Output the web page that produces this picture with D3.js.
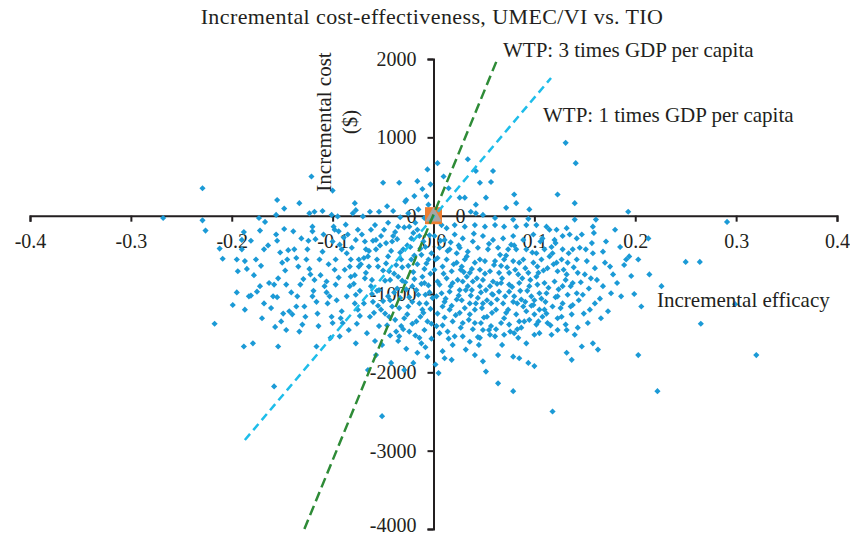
<!DOCTYPE html>
<html>
<head>
<meta charset="utf-8">
<script src="https://cdn.jsdelivr.net/npm/d3@7"></script>
<style>
  body { margin: 0; background: #fff; }
  svg text { font-family: "Liberation Serif", "DejaVu Serif", serif; fill: #231f20; }
</style>
</head>
<body>
<div id="chart-area"></div>
<script>
// chart: incremental cost vs incremental efficacy (bootstrap scatter)

const W = 850
const H = 537

const TITLE = "Incremental cost-effectiveness, UMEC/VI vs. TIO"
const xTicks = [-0.4, -0.3, -0.2, -0.1, 0.0, 0.1, 0.2, 0.3, 0.4]
const yTicks = [-4000, -3000, -2000, -1000, 0, 1000, 2000]

// willingness-to-pay threshold lines, [efficacy, cost] end points
const wtp3 = [[-0.128, -4000], [0.064, 2020]]
const wtp1 = [[-0.187, -2864], [0.1165, 1758]]

// base case point (origin)
const basePoint = [0, 0]

// simulated points: [incremental efficacy, incremental cost ($)]
const simLeft = [
	[-0.268,-30],[-0.229,350],[-0.229,-60],[-0.226,-190],[-0.212,-420],[-0.209,-550],[-0.217,-1380],[-0.199,-1140],
	[-0.195,-980],[-0.194,-710],[-0.188,-210],[-0.190,-310],[-0.190,-430],[-0.187,-580],[-0.185,-680],[-0.183,-1030],
	[-0.187,-1200],[-0.188,-1670],[-0.179,-1630],[-0.181,-320],[-0.176,-560],[-0.173,-30],[-0.172,-190],[-0.168,-430],
	[-0.167,-80],[-0.172,-900],[-0.175,-970],[-0.181,-1020],[-0.168,-1120],[-0.170,-1310],[-0.163,-860],[-0.158,-880],
	[-0.159,-1030],[-0.155,-1040],[-0.155,200],[-0.156,10],[-0.156,-240],[-0.155,-320],[-0.154,-800],[-0.150,-600],
	[-0.154,-1670],[-0.158,-2180],[-0.148,90],[-0.148,-170],[-0.144,-440],[-0.145,-560],[-0.146,-880],[-0.149,-1250],
	[-0.151,-1350],[-0.143,-1220],[-0.146,-1460],[-0.140,-1260],[-0.136,-1160],[-0.138,-430],[-0.136,-540],[-0.133,160],
	[-0.131,-290],[-0.132,-880],[-0.135,-1030],[-0.133,-1480],[-0.130,-1390],[-0.128,-1160],[-0.126,-560],[-0.125,-430],
	[-0.123,30],[-0.121,500],[-0.118,50],[-0.120,-140],[-0.120,-200],[-0.117,-300],[-0.123,-680],[-0.122,-750],
	[-0.118,-820],[-0.120,-1030],[-0.116,-1100],[-0.115,-1250],[-0.116,-1670],[-0.113,-560],[-0.110,60],[-0.110,-460],
	[-0.108,-900],[-0.106,-840],[-0.106,-980],[-0.105,-1120],[-0.103,-1030],[-0.101,-1290],[-0.100,320],[-0.101,10],
	[-0.099,-140],[-0.098,-180],[-0.100,-330],[-0.097,-560],[-0.098,-690],[-0.097,-880],[-0.100,-1370],[-0.095,-10],
	[-0.094,-200],[-0.093,-370],[-0.092,-1310],[-0.090,-1370],[-0.093,-1540],[-0.087,-115],[-0.085,-240],[-0.086,-480],
	[-0.083,-650],[-0.083,-900],[-0.082,-780],[-0.080,30],[-0.078,160],[-0.077,70],[-0.077,-310],[-0.075,-180],
	[-0.074,-560],[-0.074,-650],[-0.077,-1010],[-0.078,-1120],[-0.075,-1200],[-0.077,-1630],[-0.070,-10],[-0.068,-330],
	[-0.067,-430],[-0.067,-730],[-0.065,-520],[-0.063,50],[-0.062,-180],[-0.062,-900],[-0.060,-1100],[-0.063,-1290],
	[-0.065,-1970],[-0.057,-310],[-0.057,-430],[-0.055,-650],[-0.054,50],[-0.054,-950],[-0.052,-1200],[-0.054,-1410],
	[-0.050,420],[-0.051,-2560],[-0.049,-180],[-0.047,-350],[-0.046,120],[-0.045,-520],[-0.045,-1030],[-0.044,-1290],
	[-0.042,-1880],[-0.040,-260],[-0.037,-630],[-0.035,-780],[-0.034,420],[-0.035,-140],[-0.032,-1410],[-0.034,-1540],
	[-0.030,-430],[-0.029,-1970],[-0.027,200],[-0.025,-1160],[-0.024,-140],[-0.022,-560],[-0.021,-900],[-0.019,250],
	[-0.018,-90],[-0.016,440],[-0.014,-260],[-0.012,-1630],[-0.011,-1200],[-0.009,-860],[-0.007,250],[-0.006,590],
	[-0.195,-560],[-0.178,-760],[-0.171,-640],[-0.164,-380],[-0.161,-1180],[-0.157,-1420],[-0.152,-470],[-0.147,-700],
	[-0.141,-980],[-0.139,-200],[-0.134,-650],[-0.129,-810],[-0.127,-1290],[-0.124,-320],[-0.119,-960],[-0.114,-1410],
	[-0.112,-760],[-0.109,-240],[-0.104,-620],[-0.102,-1560],[-0.096,-1080],[-0.094,-790],[-0.091,-1220],[-0.089,-280],
	[-0.086,-1030],[-0.084,-1460],[-0.081,-410],[-0.079,-870],[-0.076,-1380],[-0.073,-960],[-0.071,-240],[-0.069,-540]
]

const simNearZero = [
	[-0.058,-120],[-0.052,-260],[-0.045,-90],[-0.041,-330],[-0.038,-210],[-0.033,-470],[-0.029,-150],[-0.026,-380],
	[-0.022,-290],[-0.019,-510],[-0.016,-180],[-0.013,-420],[-0.010,-330],[-0.007,-610],[-0.004,-250],[-0.002,-480],
	[-0.056,-560],[-0.050,-700],[-0.047,-610],[-0.043,-820],[-0.039,-740],[-0.036,-930],[-0.031,-660],[-0.028,-850],
	[-0.024,-1040],[-0.020,-720],[-0.017,-950],[-0.014,-1120],[-0.011,-780],[-0.008,-1010],[-0.005,-890],[-0.003,-1190],
	[-0.061,-1000],[-0.055,-1150],[-0.048,-1250],[-0.043,-1080],[-0.038,-1330],[-0.034,-1180],[-0.030,-1450],[-0.026,-1260],
	[-0.021,-1380],[-0.018,-1530],[-0.013,-1290],[-0.009,-1460],[-0.006,-1350],[-0.002,-1570],[-0.068,-800],[-0.072,-620],
	[-0.064,-450],[-0.060,-320],[-0.069,-1120],[-0.073,-1280],[-0.078,-760],[-0.082,-560],[-0.088,-690],[-0.091,-430],
	[-0.035,-1600],[-0.027,-1700],[-0.016,-1750],[-0.008,-1680],[-0.020,-1880],[-0.043,-1530],[-0.051,-1650],[-0.057,-1780],
	[-0.009,-30],[-0.015,80],[-0.025,30],[-0.033,-20],[-0.005,140],[-0.028,180],[-0.040,60],[-0.011,340],[-0.003,400],
	[-0.066,-1500],[-0.064,-650],[-0.061,-820],[-0.059,-1240],[-0.058,-1600],[-0.056,-960],[-0.053,-380],[-0.050,-1090],
	[-0.048,-830],[-0.046,-1400],[-0.044,-710],[-0.042,-450],[-0.041,-1160],[-0.039,-980],[-0.037,-1480],[-0.036,-300],
	[-0.033,-1050],[-0.032,-560],[-0.031,-830],[-0.029,-1310],[-0.027,-940],[-0.025,-640],[-0.024,-1480],[-0.023,-400],
	[-0.021,-1100],[-0.020,-220],[-0.019,-810],[-0.017,-1350],[-0.016,-620],[-0.015,-1010],[-0.014,-1560],[-0.012,-500],
	[-0.012,-870],[-0.010,-1240],[-0.009,-680],[-0.008,-400],[-0.007,-1120],[-0.006,-1800],[-0.005,-560],[-0.004,-980],
	[-0.003,-740],[-0.002,-1380],[-0.001,-1050]
]

const simRight = [
	[0.004,670],[0.010,500],[0.015,350],[0.034,720],[0.042,570],[0.046,420],[0.059,570],[0.057,430],[0.052,230],
	[0.026,230],[0.031,230],[0.042,140],[0.037,50],[0.080,270],[0.082,160],[0.072,100],[0.095,80],[0.123,270],
	[0.141,670],[0.131,930],[0.140,160],[0.193,50],[0.161,-50],[0.140,-50],[0.079,-50],[0.061,-30],[0.094,-40],
	[0.115,-180],[0.122,-180],[0.132,-160],[0.135,-240],[0.142,-290],[0.147,-240],[0.158,-140],[0.159,-220],[0.171,-330],
	[0.180,-180],[0.213,-290],[0.151,-430],[0.158,-480],[0.145,-410],[0.168,-460],[0.191,-560],[0.194,-520],[0.203,-560],
	[0.189,-630],[0.214,-750],[0.226,-900],[0.206,-1160],[0.186,-1030],[0.176,-990],[0.175,-650],[0.178,-750],[0.160,-670],
	[0.156,-800],[0.150,-750],[0.148,-1010],[0.168,-900],[0.160,-1120],[0.155,-1200],[0.166,-1310],[0.153,-1370],[0.163,-1710],
	[0.158,-1630],[0.147,-1670],[0.203,-1780],[0.222,-2240],[0.118,-2500],[0.079,-2240],[0.064,-2140],[0.052,-1990],[0.005,-2010],
	[0.100,-1920],[0.094,-1880],[0.085,-1820],[0.079,-1800],[0.064,-1780],[0.049,-1860],[0.041,-1780],[0.032,-1710],[0.018,-1840],
	[0.011,-1820],[0.009,-1730],[0.002,-1900],[0.132,-1750],[0.137,-1840],[0.140,-1520],[0.143,-1430],[0.132,-1460],[0.123,-1460],
	[0.117,-1520],[0.105,-1500],[0.100,-1520],[0.092,-1630],[0.084,-1560],[0.080,-1500],[0.070,-1520],[0.061,-1540],[0.056,-1520],
	[0.049,-1460],[0.046,-1560],[0.036,-1610],[0.029,-1540],[0.021,-1540],[0.014,-1480],[0.003,-1410],[0.019,-1350],[0.029,-1370],
	[0.041,-1370],[0.047,-1370],[0.057,-1410],[0.067,-1370],[0.075,-1390],[0.085,-1350],[0.102,-1390],[0.113,-1370],[0.123,-1310],
	[0.137,-1260],[0.127,-1290],[0.108,-1290],[0.100,-1260],[0.092,-1220],[0.082,-1260],[0.072,-1240],[0.062,-1200],[0.036,-1260],
	[0.026,-1240],[0.016,-1200],[0.009,-1160],[0.138,-1140],[0.128,-1120],[0.118,-1160],[0.110,-1200],[0.099,-1140],[0.089,-1160],
	[0.079,-1100],[0.069,-1120],[0.057,-1120],[0.049,-1120],[0.042,-1120],[0.036,-1120],[0.023,-1070],[0.011,-1100],[0.003,-1030],
	[0.142,-990],[0.133,-1010],[0.123,-1030],[0.112,-990],[0.105,-990],[0.097,-1030],[0.087,-1070],[0.080,-1030],[0.075,-970],
	[0.065,-970],[0.059,-1010],[0.052,-950],[0.046,-900],[0.034,-900],[0.026,-950],[0.016,-970],[0.008,-990],[0.138,-860],
	[0.128,-900],[0.120,-840],[0.110,-860],[0.102,-780],[0.095,-900],[0.085,-860],[0.075,-880],[0.067,-860],[0.059,-840],
	[0.049,-820],[0.039,-840],[0.029,-840],[0.019,-860],[0.013,-800],[0.004,-840],[0.143,-730],[0.132,-750],[0.123,-710],
	[0.113,-670],[0.104,-730],[0.094,-730],[0.084,-750],[0.075,-730],[0.065,-730],[0.056,-710],[0.046,-690],[0.036,-730],
	[0.027,-690],[0.018,-710],[0.009,-650],[0.001,-690],[0.142,-560],[0.133,-600],[0.122,-600],[0.115,-520],[0.107,-560],
	[0.099,-600],[0.089,-560],[0.079,-580],[0.070,-560],[0.061,-580],[0.051,-580],[0.041,-600],[0.031,-560],[0.023,-600],
	[0.013,-560],[0.004,-540],[0.138,-430],[0.128,-430],[0.118,-480],[0.110,-430],[0.102,-480],[0.092,-430],[0.082,-430],
	[0.074,-430],[0.064,-410],[0.054,-430],[0.044,-410],[0.034,-460],[0.026,-410],[0.016,-430],[0.006,-410],[0.128,-260],
	[0.120,-310],[0.108,-290],[0.099,-240],[0.089,-310],[0.079,-260],[0.069,-290],[0.059,-310],[0.049,-260],[0.039,-330],
	[0.029,-290],[0.021,-240],[0.011,-310],[0.001,-260],[0.112,-140],[0.102,-120],[0.092,-120],[0.082,-140],[0.070,-140],
	[0.061,-120],[0.051,-140],[0.041,-120],[0.031,-140],[0.021,-120],[0.013,-160],[0.049,10],[0.042,30],
	[0.008,-120],[0.017,-340],[0.023,-480],[0.028,-650],[0.033,-780],[0.038,-950],[0.044,-1050],[0.048,-1180],[0.053,-1290],
	[0.058,-1000],[0.063,-870],[0.067,-640],[0.072,-510],[0.077,-370],[0.081,-690],[0.086,-960],[0.091,-1100],[0.096,-820],
	[0.103,-650],[0.107,-1060],[0.112,-1250],[0.117,-400],[0.121,-1040],[0.127,-560],[0.131,-820],[0.136,-1160],[0.011,-1300],
	[0.006,-1500],[0.019,-1650],[0.025,-1020],[0.031,-1180],[0.039,-1450],[0.045,-1650],[0.055,-1460],[0.068,-1650],[0.074,-1200],
	[0.083,-1450],[0.090,-1350],[0.097,-1150],[0.104,-1350],
	[0.002,-560],[0.004,-1250],[0.006,-880],[0.007,-320],[0.009,-1400],[0.010,-740],[0.012,-1060],[0.014,-450],[0.015,-1570],
	[0.017,-900],[0.018,-1150],[0.020,-620],[0.022,-1270],[0.024,-820],[0.025,-380],[0.027,-1430],[0.028,-1080],[0.030,-720],
	[0.032,-950],[0.033,-520],[0.035,-1330],[0.037,-1020],[0.038,-680],[0.040,-230],[0.041,-1200],[0.043,-800],[0.044,-1550],
	[0.046,-560],[0.047,-980],[0.050,-1300],[0.051,-740],[0.053,-1080],[0.055,-360],[0.056,-900],[0.058,-1240],[0.060,-630],
	[0.062,-1450],[0.063,-1070],[0.066,-500],[0.068,-800],[0.070,-1310],[0.071,-1030],[0.073,-660],[0.076,-1480],[0.078,-910],
	[0.080,-380],[0.083,-1120],[0.085,-600],[0.087,-1430],[0.088,-800],[0.091,-670],[0.093,-960],[0.095,-1330],[0.098,-470],
	[0.100,-1080],[0.103,-880],[0.105,-1200],[0.106,-330],[0.109,-700],[0.111,-1100],[0.114,-920],[0.116,-1400],[0.119,-620],
	[0.121,-350],[0.124,-940],[0.126,-1180],[0.129,-690],[0.131,-1390],[0.134,-480],[0.136,-900],[0.139,-660],[0.144,-1080],
	[0.146,-850],[0.149,-1250],[0.152,-580],[0.154,-930],[0.157,-350],[0.162,-820],[0.165,-1060],[0.170,-600],[0.173,-1220],
	[0.182,-860],[0.185,-400],[0.196,-770],[0.199,-1000],
	[0.250,-590],[0.264,-590],[0.265,-1380],[0.291,-80],[0.299,-1130],[0.320,-1780]
]

const svg = d3.select("#chart-area").append("svg")
	.attr("width", W)
	.attr("height", H)

const x = d3.scaleLinear().domain([-0.4, 0.4]).range([30, 837])
const y = d3.scaleLinear().domain([-4000, 2000]).range([529, 59])

// axes, crossing at the origin
const xAxis = svg.append("g")
	.attr("transform", `translate(0, ${y(0)})`)
	.call(d3.axisBottom(x).tickValues(xTicks).tickFormat(d => d.toFixed(1)).tickSize(6).tickPadding(12))

const yAxis = svg.append("g")
	.attr("transform", `translate(${x(0)}, 0)`)
	.call(d3.axisLeft(y).tickValues(yTicks).tickFormat(d => String(d)).tickSize(6).tickPadding(11))

svg.selectAll(".domain, .tick line").attr("stroke", "#231f20").attr("stroke-width", 2)
svg.selectAll(".tick text")
	.attr("font-family", "Liberation Serif, serif")
	.attr("font-size", 20)
	.attr("fill", "#231f20")

// bottom label sits on the edge of the frame, lift it a little
yAxis.selectAll(".tick text").filter(d => d === -4000).attr("dy", "0.1em")

// scatter points
const allPoints = simLeft.concat(simNearZero, simRight)
svg.append("g").selectAll("path")
	.data(allPoints)
	.enter().append("path")
	.attr("d", d3.symbol().type(d3.symbolSquare).size(19))
	.attr("transform", d => `translate(${x(d[0])}, ${y(d[1])}) rotate(45)`)
	.attr("fill", "#1b9ad6")

// base case markers
svg.append("path")
	.attr("d", d3.symbol().type(d3.symbolSquare).size(290))
	.attr("transform", `translate(${x(basePoint[0])}, ${y(basePoint[1])})`)
	.attr("fill", "#ed7d31")
svg.append("path")
	.attr("d", d3.symbol().type(d3.symbolTriangle).size(120))
	.attr("transform", `translate(${x(basePoint[0])}, ${y(basePoint[1]) + 1})`)
	.attr("fill", "#a5a5a5")
svg.append("text")
	.attr("x", x(basePoint[0]) + 27)
	.attr("y", y(basePoint[1]) + 7)
	.attr("text-anchor", "middle")
	.attr("font-size", 20)
	.text("0")

// WTP lines
const line = d3.line().x(d => x(d[0])).y(d => y(d[1]))
svg.append("path")
	.attr("d", line(wtp1))
	.attr("fill", "none")
	.attr("stroke", "#1ebdea")
	.attr("stroke-width", 2.5)
	.attr("stroke-dasharray", "8,5")
svg.append("path")
	.attr("d", line(wtp3))
	.attr("fill", "none")
	.attr("stroke", "#2e8b37")
	.attr("stroke-width", 2.5)
	.attr("stroke-dasharray", "10,5")

// labels
svg.append("text")
	.attr("x", 432).attr("y", 24)
	.attr("text-anchor", "middle")
	.attr("font-size", 22)
	.attr("letter-spacing", 0.4)
	.text(TITLE)

svg.append("text")
	.attr("x", 503).attr("y", 57)
	.attr("font-size", 21)
	.text("WTP: 3 times GDP per capita")

svg.append("text")
	.attr("x", 543).attr("y", 122)
	.attr("font-size", 21)
	.text("WTP: 1 times GDP per capita")

svg.append("text")
	.attr("x", 657).attr("y", 307)
	.attr("font-size", 21)
	.text("Incremental efficacy")

svg.append("text")
	.attr("transform", "translate(331, 122) rotate(-90)")
	.attr("text-anchor", "middle")
	.attr("font-size", 21)
	.text("Incremental cost")
svg.append("text")
	.attr("transform", "translate(357, 122) rotate(-90)")
	.attr("text-anchor", "middle")
	.attr("font-size", 21)
	.text("($)")
</script>
</body>
</html>
